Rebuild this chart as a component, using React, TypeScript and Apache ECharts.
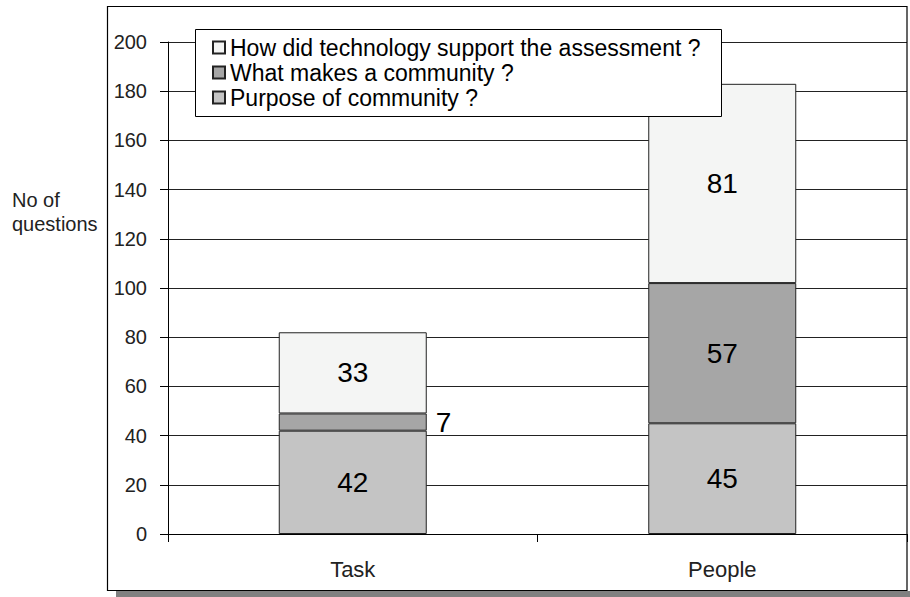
import React, { useEffect, useRef } from "react";
import * as echarts from "echarts";

const categories = ["Task", "People"];
const purposeOfCommunity = [42, 45];
const whatMakesCommunity = [7, 57];
const howTechnologySupport = [33, 81];
const seriesNames = [
  "How did technology support the assessment ?",
  "What makes a community ?",
  "Purpose of community ?",
];
const yAxisTitle = "No of\nquestions";

const FONT = "'Liberation Sans', Arial, sans-serif";

export default function App() {
  const ref = useRef<HTMLDivElement>(null);
  useEffect(() => {
    if (!ref.current) return;
    const chart = echarts.init(ref.current, undefined, { renderer: "svg" });
    const labelBase = {
      show: true,
      position: "inside",
      fontSize: 28,
      fontFamily: FONT,
      color: "#000",
    };
    const common = {
      type: "bar",
      stack: "total",
      barWidth: 148,
      itemStyle: { borderColor: "#222", borderWidth: 1 },
      label: labelBase,
    };
    chart.setOption({
      animation: false,
      backgroundColor: "#fff",
      textStyle: { fontFamily: FONT },
      grid: { left: 168, right: 3, top: 42, bottom: 63, containLabel: false },
      legend: {
        orient: "vertical",
        left: 195,
        top: 29,
        padding: [7, 10, 8, 17],
        itemWidth: 12,
        itemHeight: 12,
        itemGap: 2,
        icon: "rect",
        z: 11,
        data: seriesNames,
        textStyle: { fontSize: 23, fontFamily: FONT, color: "#000" },
        selectedMode: false,
      },
      xAxis: {
        type: "category",
        data: categories,
        axisLine: { lineStyle: { color: "#000", width: 1 } },
        axisTick: { show: true, length: 8, lineStyle: { color: "#000" } },
        axisLabel: { fontSize: 22, fontFamily: FONT, color: "#222", margin: 24 },
      },
      yAxis: {
        type: "value",
        min: 0,
        max: 200,
        interval: 20,
        axisLine: { show: true, lineStyle: { color: "#000", width: 1 } },
        axisTick: { show: true, length: 8, lineStyle: { color: "#000" } },
        axisLabel: { fontSize: 20, fontFamily: FONT, color: "#222", margin: 21 },
        splitLine: { show: true, lineStyle: { color: "#222", width: 1 } },
      },
      graphic: [
        {
          type: "rect",
          shape: { x: 116, y: 591, width: 794, height: 6 },
          style: { fill: "#808080" },
          z: 0,
          silent: true,
        },
        {
          type: "rect",
          shape: { x: 107.5, y: 6.5, width: 799.5, height: 584 },
          style: { fill: "none", stroke: "#000", lineWidth: 1.2 },
          z: 20,
          silent: true,
        },
        {
          type: "rect",
          shape: { x: 195.5, y: 29.5, width: 526, height: 87 },
          style: { fill: "#fff", stroke: "#000", lineWidth: 1 },
          z: 10,
          silent: true,
        },
        {
          type: "text",
          x: 12,
          y: 188,
          style: {
            text: yAxisTitle,
            font: "20px 'Liberation Sans', Arial, sans-serif",
            lineHeight: 24,
            fill: "#222",
          },
          z: 10,
          silent: true,
        },
      ],
      series: [
        {
          ...common,
          name: seriesNames[2],
          data: purposeOfCommunity,
          itemStyle: { color: "#c4c4c4", borderColor: "#222", borderWidth: 1 },
        },
        {
          ...common,
          name: seriesNames[1],
          data: whatMakesCommunity.map((v, i) =>
            i === 0 ? { value: v, label: { position: "right", distance: 9 } } : v
          ),
          itemStyle: { color: "#a6a6a6", borderColor: "#222", borderWidth: 1 },
        },
        {
          ...common,
          name: seriesNames[0],
          data: howTechnologySupport,
          itemStyle: { color: "#f4f5f4", borderColor: "#222", borderWidth: 1 },
        },
      ],
    });
    return () => chart.dispose();
  }, []);
  return (
    <div
      ref={ref}
      style={{ position: "fixed", left: 0, top: 0, width: 910, height: 597 }}
    />
  );
}
